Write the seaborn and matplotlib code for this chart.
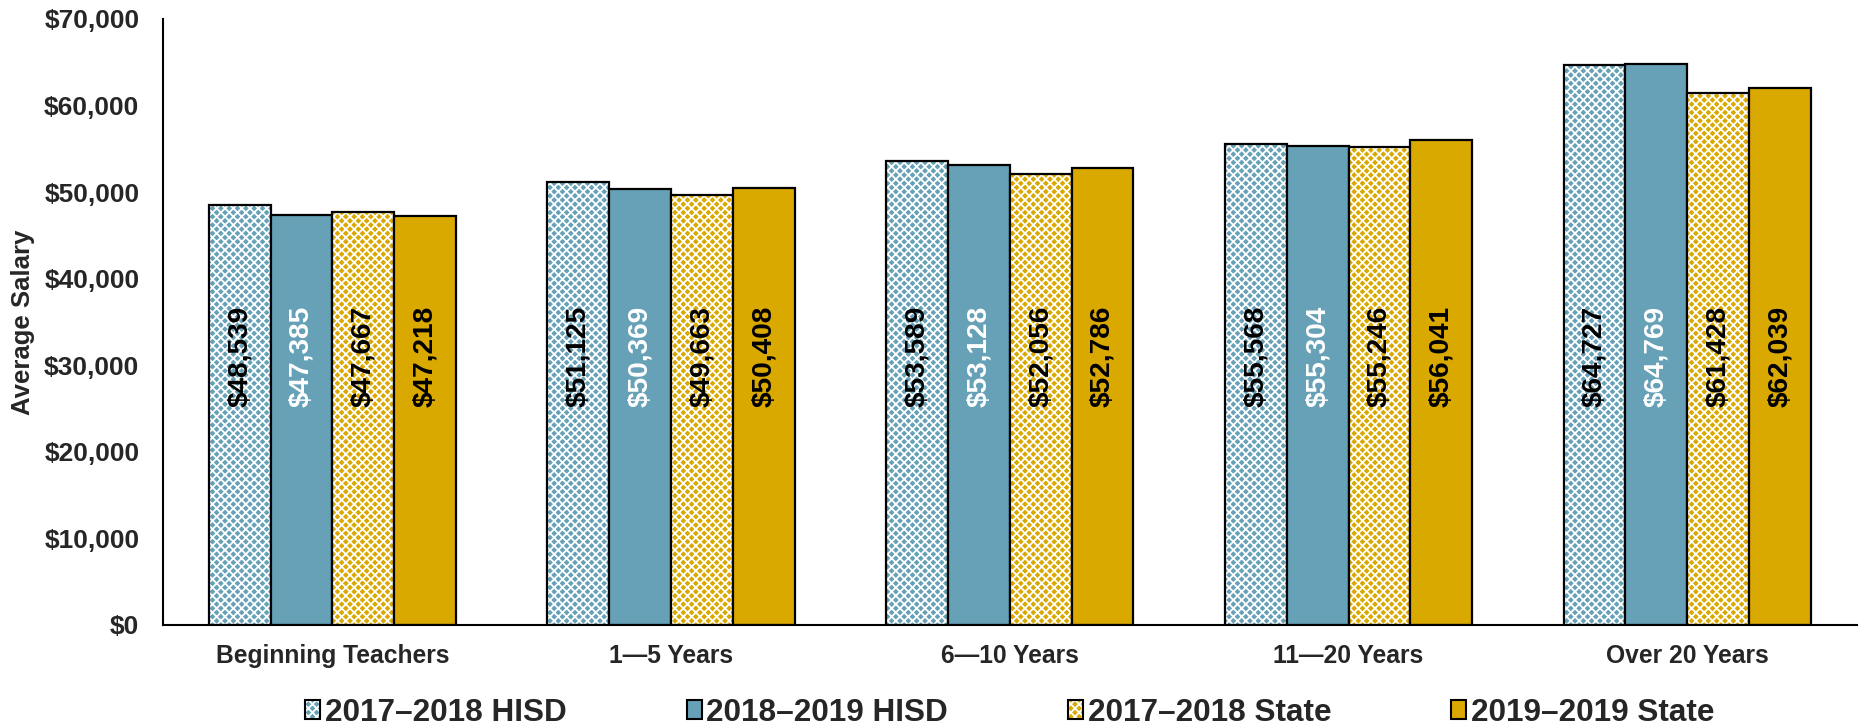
import matplotlib
matplotlib.use("Agg")
import matplotlib.pyplot as plt
import matplotlib.colors as mcolors
from matplotlib import font_manager
import seaborn as sns
import pandas as pd
from matplotlib.ticker import FuncFormatter, FixedLocator

categories = ["Beginning Teachers", "1\u20145 Years", "6\u201410 Years", "11\u201420 Years", "Over 20 Years"]
series = ["2017\u20132018 HISD", "2018\u20132019 HISD", "2017\u20132018 State", "2019\u20132019 State"]
hisd_1718 = [48539, 51125, 53589, 55568, 64727]
hisd_1819 = [47385, 50369, 53128, 55304, 64769]
state_1718 = [47667, 49663, 52056, 55246, 61428]
state_1919 = [47218, 50408, 52786, 56041, 62039]

values = [hisd_1718, hisd_1819, state_1718, state_1919]
rows = []
for s, vals in zip(series, values):
    for c, v in zip(categories, vals):
        rows.append({"Category": c, "Series": s, "Salary": v})
df = pd.DataFrame(rows)

sns.set_style("white")
plt.rcParams['font.family'] = ['Liberation Sans', 'DejaVu Sans']
plt.rcParams['font.weight'] = 'bold'
plt.rcParams['hatch.linewidth'] = 1.3

names = {f.name for f in font_manager.fontManager.ttflist}
narrow = ['Liberation Sans Narrow', 'Liberation Sans', 'DejaVu Sans'] if 'Liberation Sans Narrow' in names else ['Liberation Sans', 'DejaVu Sans']
narrow_scale = 1.0 if 'Liberation Sans Narrow' in names else 0.84

blue = "#66A1B7"
gold = "#DAA900"
palette = [blue, blue, gold, gold]

fig = plt.figure(figsize=(18.59, 7.25), dpi=100)
ax = fig.add_axes([0.0877, 0.138, 0.911, 0.836])

sns.barplot(data=df, x="Category", y="Salary", hue="Series", palette=palette,
            width=0.73, gap=0, edgecolor="black", linewidth=1.6,
            saturation=1, errorbar=None, ax=ax, legend=True)

def set_hatch(p, h):
    p.set_hatch(h)
    if hasattr(p, "set_hatchcolor"):
        p.set_hatchcolor("white")
    else:
        p._hatch_color = mcolors.to_rgba("white")

hatches = ["xxxx", None, "xxxx", None]
label_colors = ["black", "white", "black", "black"]
for cont, h, lc in zip(ax.containers, hatches, label_colors):
    for bar in cont:
        if h:
            set_hatch(bar, h)
        x = bar.get_x() + bar.get_width() / 2
        ax.text(x, 31000, "${:,.0f}".format(bar.get_height()), rotation=90,
                ha="center", va="center", color=lc, fontsize=24 * narrow_scale,
                fontweight="bold", family=narrow)

ax.set_ylim(0, 70000)
ax.set_xlim(-0.5, 4.5)
ax.yaxis.set_major_locator(FixedLocator(range(0, 70001, 10000)))
ax.yaxis.set_major_formatter(FuncFormatter(lambda v, p: "${:,.0f}".format(v)))
ax.set_xticks(range(len(categories)))
ax.set_xticklabels(categories)
ax.set_xticks([i - 0.5 for i in range(len(categories) + 1)], minor=True)
ax.tick_params(axis="x", which="major", length=0, pad=14, labelsize=17.7)
ax.tick_params(axis="x", which="minor", length=6, width=1.5, direction="out", color="black")
ax.tick_params(axis="y", length=5, width=1.5, direction="out", color="black", labelsize=19, pad=12)
for t in ax.get_xticklabels() + ax.get_yticklabels():
    t.set_fontweight("bold")
ax.set_xlabel("")
ax.set_ylabel("Average Salary", fontsize=18.5, fontweight="bold")
ax.yaxis.set_label_coords(-0.0756, 0.5)
for side in ["top", "right"]:
    ax.spines[side].set_visible(False)
for side in ["left", "bottom"]:
    ax.spines[side].set_color("black")
    ax.spines[side].set_linewidth(1.5)

handles, labels = ax.get_legend_handles_labels()
for hd, h in zip(handles, hatches):
    hd.set_edgecolor("black")
    hd.set_linewidth(1.5)
    if h:
        set_hatch(hd, "xxxx")
leg = ax.legend(handles, labels, loc="center", bbox_to_anchor=(0.5, -0.145), ncol=4,
                frameon=False, prop={"size": 27 * narrow_scale, "weight": "bold", "family": narrow},
                handlelength=0.48, handleheight=0.55, handletextpad=0.15, columnspacing=3.8,
                borderpad=0, borderaxespad=0)

fig.savefig("out.png", dpi=100)
